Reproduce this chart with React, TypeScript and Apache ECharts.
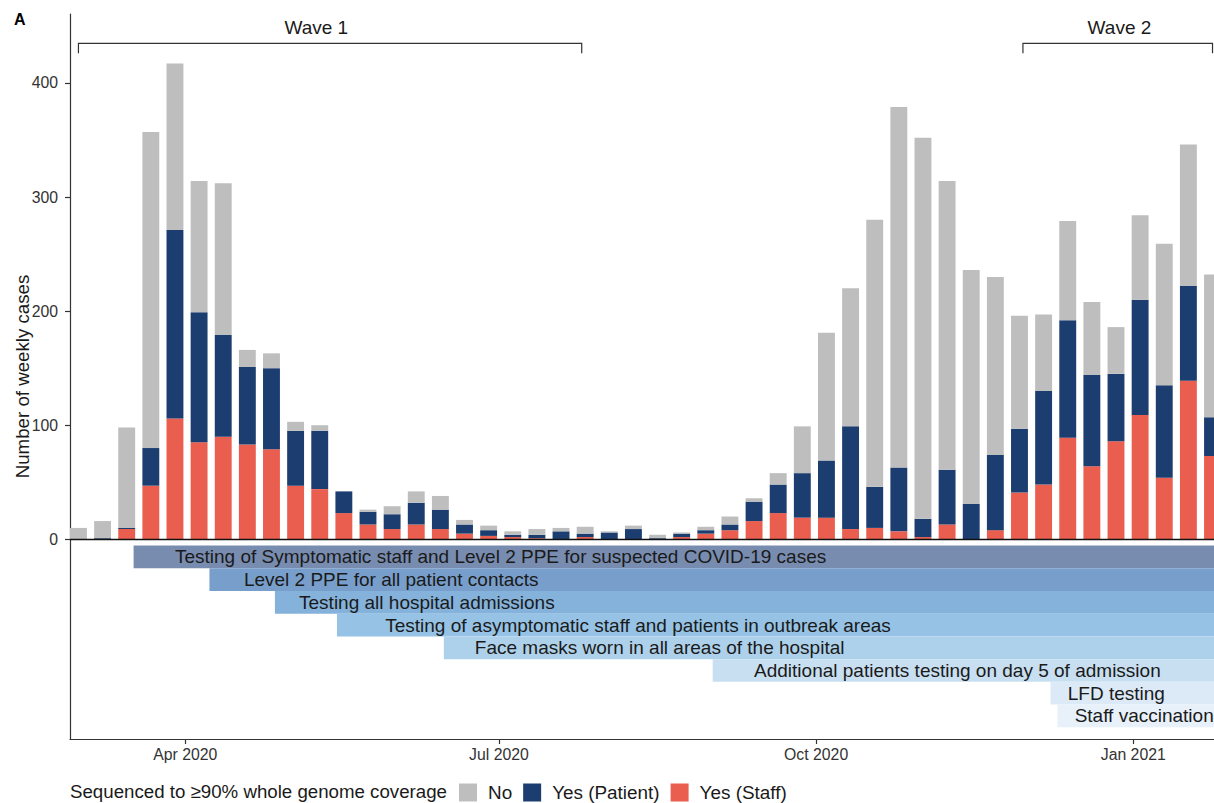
import React, { useEffect, useRef } from "react";
import * as echarts from "echarts";

// ---------- data ----------
const weekDates = [
  "2020-03-01", "2020-03-08", "2020-03-15", "2020-03-22", "2020-03-29",
  "2020-04-05", "2020-04-12", "2020-04-19", "2020-04-26", "2020-05-03",
  "2020-05-10", "2020-05-17", "2020-05-24", "2020-05-31", "2020-06-07",
  "2020-06-14", "2020-06-21", "2020-06-28", "2020-07-05", "2020-07-12",
  "2020-07-19", "2020-07-26", "2020-08-02", "2020-08-09", "2020-08-16",
  "2020-08-23", "2020-08-30", "2020-09-06", "2020-09-13", "2020-09-20",
  "2020-09-27", "2020-10-04", "2020-10-11", "2020-10-18", "2020-10-25",
  "2020-11-01", "2020-11-08", "2020-11-15", "2020-11-22", "2020-11-29",
  "2020-12-06", "2020-12-13", "2020-12-20", "2020-12-27", "2021-01-03",
  "2021-01-10", "2021-01-17", "2021-01-24",
];

const yesStaff = [
  0, 0, 9, 47, 106, 85, 90, 83, 79, 47,
  44, 23, 13, 9, 13, 9, 5, 3, 2, 1,
  0, 2, 0, 0, 0, 2, 5, 8, 16, 23,
  19, 19, 9, 10, 7, 2, 13, 0, 8, 41,
  48, 89, 64, 86, 109, 54, 139, 73,
];

const yesPatient = [
  0, 1, 1, 33, 165, 114, 89, 68, 71, 48,
  51, 19, 11, 13, 19, 17, 8, 5, 2, 3,
  7, 3, 6, 9, 1, 3, 3, 5, 17, 25,
  39, 50, 90, 36, 56, 16, 48, 31, 66, 56,
  82, 103, 80, 59, 101, 81, 83, 34,
];

const notSequenced = [
  10, 15, 88, 277, 146, 115, 133, 15, 13, 8,
  5, 0, 2, 7, 10, 12, 4, 4, 3, 5,
  3, 6, 1, 3, 3, 1, 3, 7, 3, 10,
  41, 112, 121, 234, 316, 334, 253, 205, 156, 99,
  67, 87, 64, 41, 74, 124, 124, 125,
];

const seriesNames = ["No", "Yes (Patient)", "Yes (Staff)"];

const interventionNames = [
  "Testing of Symptomatic staff and Level 2 PPE for suspected COVID-19 cases",
  "Level 2 PPE for all patient contacts",
  "Testing all hospital admissions",
  "Testing of asymptomatic staff and patients in outbreak areas",
  "Face masks worn in all areas of the hospital",
  "Additional patients testing on day 5 of admission",
  "LFD testing",
  "Staff vaccination",
];
const interventionStarts = [
  "2020-03-17", "2020-04-08", "2020-04-27", "2020-05-15",
  "2020-06-15", "2020-09-01", "2020-12-08", "2020-12-10",
];
const interventionLabelDates = [
  "2020-03-29", "2020-04-18", "2020-05-04", "2020-05-29",
  "2020-06-24", "2020-09-13", "2020-12-13", "2020-12-15",
];

const waveNames = ["Wave 1", "Wave 2"];
const waveStarts = ["2020-03-01", "2020-11-30"];
const waveEnds = ["2020-07-25", "2021-01-24"];
const waveLabelDates = ["2020-05-09", "2020-12-28"];

const xTickDates = ["2020-04-01", "2020-07-01", "2020-10-01", "2021-01-01"];
const xTickLabels = ["Apr 2020", "Jul 2020", "Oct 2020", "Jan 2021"];
const yTickValues = [0, 100, 200, 300, 400];

// ---------- styling ----------
const FONT = "'Liberation Sans', Arial, Helvetica, sans-serif";
const COLORS = { no: "#BEBEBE", patient: "#1B3D6F", staff: "#EA5E4F" };
const BAND_COLORS = [
  "#788CB0", "#789FCB", "#84B2DA", "#96C3E5",
  "#AED1EB", "#C8DFF1", "#DCE9F6", "#E8F1FA",
];
const BAND_TOP = -5.5;
const BAND_H = 19.9;
const GRID_LEFT = 70;
const GRID_RIGHT = 0;
const CHART_W = 1214;
const CHART_H = 803;
const BAR_W = 16.9;
const BIG_FONT = 19;

const DAY = 86400000;
const toTs = (s: string) => {
  const [y, m, d] = s.split("-").map(Number);
  return new Date(y, m - 1, d).getTime();
};

export default function App() {
  const ref = useRef<HTMLDivElement>(null);

  useEffect(() => {
    if (!ref.current) return;
    const chart = echarts.init(ref.current, undefined, { renderer: "svg" });

    const weekX = weekDates.map(toTs);
    const tickX = xTickDates.map(toTs);
    const xMin = toTs("2020-04-01") - 33.45 * DAY;
    const xMax = toTs("2021-01-24") + 0.43 * DAY;

    // A time axis that carries bars is widened by ECharts by half a bar on
    // each side; pre-shrink its range so that it lines up with the value axis.
    const axisLen = CHART_W - GRID_LEFT - GRID_RIGHT;
    const shrink = 1 - BAR_W / axisLen;
    const mid = (xMin + xMax) / 2;
    const half = ((xMax - xMin) / 2) * shrink;
    const tMin = mid - half;
    const tMax = mid + half;

    const bandData = interventionNames.map((_, i) => [
      toTs(interventionStarts[i]),
      i,
      toTs(interventionLabelDates[i]),
    ]);
    const waveData = waveNames.map((_, i) => [
      toTs(waveStarts[i]),
      toTs(waveEnds[i]),
      toTs(waveLabelDates[i]),
      i,
    ]);

    const textCol = "#1a1a1a";
    const axisCol = "#333";

    const barSeries = (name: string, values: number[], color: string, extra: any = {}) => ({
      name,
      type: "bar",
      stack: "total",
      xAxisIndex: 0,
      barWidth: BAR_W,
      itemStyle: { color },
      data: weekX.map((t, i) => [t, values[i]]),
      ...extra,
    });

    const option: any = {
      animation: false,
      textStyle: { fontFamily: FONT },
      grid: {
        left: GRID_LEFT,
        right: GRID_RIGHT,
        top: 14,
        bottom: 64,
        containLabel: false,
        outerBoundsMode: "none",
      },
      legend: {
        data: seriesNames,
        left: 459,
        top: 783,
        itemWidth: 18,
        itemHeight: 18,
        itemGap: 11,
        icon: "rect",
        padding: 0,
        selectedMode: false,
        textStyle: {
          fontSize: 18.9,
          color: textCol,
          fontFamily: FONT,
          padding: [0, 0, 0, 6],
        },
      },
      graphic: [
        {
          type: "text",
          left: 70,
          top: 782,
          style: {
            text: "Sequenced to \u226590% whole genome coverage",
            fontSize: 18.7,
            fill: textCol,
            fontFamily: FONT,
          },
        },
        {
          type: "text",
          left: 14,
          top: 11,
          style: {
            text: "A",
            fontSize: 16,
            fontWeight: "bold",
            fill: "#000",
            fontFamily: FONT,
          },
        },
      ],
      xAxis: [
        {
          type: "time",
          min: tMin,
          max: tMax,
          axisLine: { show: false, onZero: false },
          axisTick: { show: false },
          axisLabel: { show: false },
          splitLine: { show: false },
        },
        {
          type: "value",
          min: xMin,
          max: xMax,
          position: "bottom",
          axisLine: { show: true, onZero: false, lineStyle: { color: axisCol, width: 1.2 } },
          axisTick: {
            show: true,
            length: 5,
            customValues: tickX,
            lineStyle: { color: axisCol, width: 1.2 },
          },
          axisLabel: {
            customValues: tickX,
            fontSize: 15.8,
            color: axisCol,
            margin: 7,
            fontFamily: FONT,
            formatter: (v: number) => {
              const i = tickX.findIndex((t) => Math.abs(t - v) < DAY / 2);
              return i >= 0 ? xTickLabels[i] : "";
            },
          },
          splitLine: { show: false },
        },
      ],
      yAxis: {
        type: "value",
        min: -175,
        max: 460.4,
        name: "Number of weekly cases",
        nameLocation: "middle",
        nameGap: 38,
        nameMoveOverlap: false,
        nameTextStyle: { fontSize: 18.7, color: textCol, fontFamily: FONT },
        axisLine: { show: true, onZero: false, lineStyle: { color: axisCol, width: 1.2 } },
        axisTick: {
          show: true,
          length: 5,
          customValues: yTickValues,
          lineStyle: { color: axisCol, width: 1.2 },
        },
        axisLabel: {
          customValues: yTickValues,
          fontSize: 15.8,
          color: axisCol,
          margin: 12,
          fontFamily: FONT,
        },
        splitLine: { show: false },
      },
      series: [
        barSeries("Yes (Staff)", yesStaff, COLORS.staff),
        barSeries("Yes (Patient)", yesPatient, COLORS.patient),
        barSeries("No", notSequenced, COLORS.no, {
          markLine: {
            silent: true,
            symbol: ["none", "none"],
            label: { show: false },
            lineStyle: { color: "#111", width: 1.3, type: "solid" },
            data: [{ yAxis: 0 }],
            z: 10,
          },
        }),
        {
          name: "interventions",
          type: "custom",
          silent: true,
          xAxisIndex: 1,
          encode: { x: 0, y: 1 },
          data: bandData,
          renderItem: (params: any, api: any) => {
            const start = api.value(0);
            const idx = api.value(1);
            const lab = api.value(2);
            const top = BAND_TOP - BAND_H * idx;
            const p0 = api.coord([start, top]);
            const p1 = api.coord([start, top - BAND_H]);
            const tp = api.coord([lab, top - BAND_H / 2]);
            const cs = params.coordSys;
            const right = cs.x + cs.width;
            return {
              type: "group",
              children: [
                {
                  type: "rect",
                  shape: { x: p0[0], y: p0[1], width: right - p0[0], height: p1[1] - p0[1] },
                  style: { fill: BAND_COLORS[idx] },
                },
                {
                  type: "text",
                  x: tp[0],
                  y: tp[1],
                  style: {
                    text: interventionNames[idx],
                    fontSize: BIG_FONT,
                    fill: textCol,
                    fontFamily: FONT,
                    align: "left",
                    verticalAlign: "middle",
                  },
                },
              ],
            };
          },
        },
        {
          name: "waves",
          type: "custom",
          silent: true,
          xAxisIndex: 1,
          encode: { x: 0 },
          data: waveData,
          renderItem: (params: any, api: any) => {
            const s = api.value(0);
            const e = api.value(1);
            const lab = api.value(2);
            const idx = api.value(3);
            const yLine = 434.7;
            const yEnd = 426;
            const a = api.coord([s, yEnd]);
            const b = api.coord([s, yLine]);
            const c = api.coord([e, yLine]);
            const d = api.coord([e, yEnd]);
            const t = api.coord([lab, 449]);
            return {
              type: "group",
              children: [
                {
                  type: "polyline",
                  shape: { points: [a, b, c, d] },
                  style: { stroke: axisCol, lineWidth: 1.2, fill: "none" },
                },
                {
                  type: "text",
                  x: t[0],
                  y: t[1],
                  style: {
                    text: waveNames[idx],
                    fontSize: BIG_FONT,
                    fill: textCol,
                    fontFamily: FONT,
                    align: "center",
                    verticalAlign: "middle",
                  },
                },
              ],
            };
          },
        },
      ],
    };

    chart.setOption(option);
    return () => chart.dispose();
  }, []);

  return (
    <div
      ref={ref}
      style={{ position: "fixed", left: 0, top: 0, width: CHART_W, height: CHART_H, background: "#fff" }}
    />
  );
}
